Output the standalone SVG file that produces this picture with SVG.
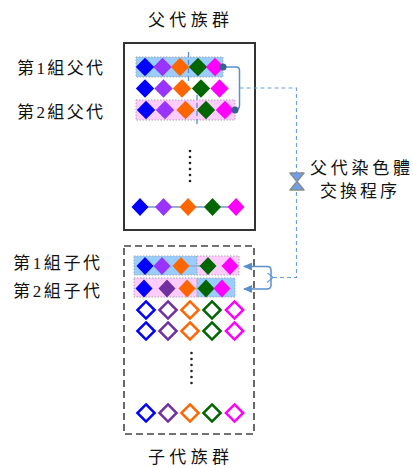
<svg xmlns="http://www.w3.org/2000/svg" xmlns:xlink="http://www.w3.org/1999/xlink" width="413" height="468" viewBox="0 0 413 468">
<style>
text{font-family:"Liberation Serif","Noto Sans CJK TC",serif;font-size:17px;fill:#111}
.b{fill:#0000ff}.p{fill:#9933ff}.dp{fill:#7030a0}.o{fill:#ff6600}.g{fill:#006600}.m{fill:#ff00ff}
.ob{stroke:#0000ff}.op{stroke:#7030a0}.oo{stroke:#ff6600}.og{stroke:#006600}.om{stroke:#ff00ff}
.hb{fill:#99ccff;stroke:#a8a8a8;stroke-width:1;stroke-dasharray:1.5 1.5}
.hp{fill:#ffccff;stroke:#a8a8a8;stroke-width:1;stroke-dasharray:1.5 1.5}
.cut{stroke:#5b8fcc;stroke-width:1.3;stroke-dasharray:5 3;fill:none}
.link{stroke:#9ab0d0;stroke-width:2}
.con{stroke:#5b8fcc;stroke-width:1.5;fill:none}
.dash{stroke:#6f9fd8;stroke-width:1.2;stroke-dasharray:4 3;fill:none}
.dot{fill:#222}
.outl{fill:#fff;stroke-width:2.5}
</style>
<defs>
<path id="dm" d="M0,-9.2 L9.2,0 L0,9.2 L-9.2,0Z"/>
<path id="ds" d="M0,-9 L8.5,0 L0,9 L-8.5,0Z"/>
<path id="do" d="M0,-8.6 L8.6,0 L0,8.6 L-8.6,0Z"/>
<marker id="ah" markerWidth="9" markerHeight="8" refX="8" refY="4" orient="auto" markerUnits="userSpaceOnUse">
<path d="M0,0 L9,4 L0,8Z" fill="#5b8fcc"/>
</marker>
<marker id="oa" markerWidth="8" markerHeight="10" refX="1" refY="5" orient="auto" markerUnits="userSpaceOnUse">
<path d="M7,0 L1,5 L7,10" fill="none" stroke="#6f9fd8" stroke-width="1.2"/>
</marker>
</defs>
<rect width="413" height="468" fill="#fff"/>

<g id="parent-population">
<text x="148" y="26" textLength="81" lengthAdjust="spacing">父代族群</text>
<rect x="124" y="43" width="131" height="187" fill="#fff" stroke="#333" stroke-width="2"/>
<g id="parent-1">
<text x="17" y="73.5" textLength="86" lengthAdjust="spacing">第1組父代</text>
<rect class="hb" x="136" y="57" width="87" height="20"/>
<use xlink:href="#dm" x="145" y="67" class="b"/>
<use xlink:href="#dm" x="162.5" y="67" class="p"/>
<use xlink:href="#dm" x="180" y="67" class="o"/>
<use xlink:href="#dm" x="198" y="67" class="g"/>
<use xlink:href="#dm" x="215" y="67" class="m"/>
<line class="cut" x1="188.5" y1="52" x2="188.5" y2="81"/>
</g>
<g id="parent-row-2">
<use xlink:href="#dm" x="145" y="88.5" class="b"/>
<use xlink:href="#dm" x="163.5" y="88.5" class="p"/>
<use xlink:href="#dm" x="182" y="88.5" class="o"/>
<use xlink:href="#dm" x="201" y="88.5" class="g"/>
<use xlink:href="#dm" x="219.5" y="88.5" class="m"/>
</g>
<g id="parent-2">
<text x="17" y="118" textLength="86" lengthAdjust="spacing">第2組父代</text>
<rect class="hp" x="136" y="100" width="99" height="20"/>
<use xlink:href="#dm" x="146" y="110" class="b"/>
<use xlink:href="#dm" x="165" y="110" class="p"/>
<use xlink:href="#dm" x="185.5" y="110" class="o"/>
<use xlink:href="#dm" x="206" y="110" class="g"/>
<use xlink:href="#dm" x="225" y="110" class="m"/>
<line class="cut" x1="197" y1="95" x2="197" y2="125"/>
</g>
<g id="parent-ellipsis">
<circle class="dot" cx="190" cy="151" r="1.3"/>
<circle class="dot" cx="190" cy="157" r="1.3"/>
<circle class="dot" cx="190" cy="163" r="1.3"/>
<circle class="dot" cx="190" cy="169" r="1.3"/>
<circle class="dot" cx="190" cy="175" r="1.3"/>
<circle class="dot" cx="190" cy="181" r="1.3"/>
</g>
<g id="parent-row-n">
<line class="link" x1="140" y1="207" x2="236" y2="207"/>
<use xlink:href="#ds" x="140" y="207" class="b"/>
<use xlink:href="#ds" x="163.5" y="207" class="p"/>
<use xlink:href="#ds" x="188" y="207" class="o"/>
<use xlink:href="#ds" x="212.5" y="207" class="g"/>
<use xlink:href="#ds" x="236" y="207" class="m"/>
</g>
</g>

<g id="exchange-process">
<path d="M290,173 H304 L297,181.5 Z M297,181.5 L304,190 H290 Z" fill="#6f9ff0" stroke="#8a8a8a" stroke-width="1.5" stroke-linejoin="round"/>
<text x="310" y="173.5" textLength="100" lengthAdjust="spacing">父代染色體</text>
<text x="320" y="197" textLength="77" lengthAdjust="spacing">交換程序</text>
</g>

<g id="child-population">
<rect x="124" y="246" width="130" height="188" fill="none" stroke="#444" stroke-width="1.6" stroke-dasharray="7 4"/>
<g id="child-1">
<text x="13" y="269" textLength="87" lengthAdjust="spacing">第1組子代</text>
<rect class="hb" x="134" y="256" width="63" height="19"/>
<rect class="hp" x="197" y="256" width="42" height="19"/>
<line class="link" x1="181" y1="266" x2="208" y2="266"/>
<use xlink:href="#ds" x="145" y="266" class="b"/>
<use xlink:href="#ds" x="162" y="266" class="p"/>
<use xlink:href="#ds" x="181" y="266" class="o"/>
<use xlink:href="#ds" x="208" y="266" class="g"/>
<use xlink:href="#ds" x="230" y="266" class="m"/>
</g>
<g id="child-2">
<text x="13" y="297" textLength="87" lengthAdjust="spacing">第2組子代</text>
<rect class="hp" x="134" y="278" width="63" height="19"/>
<rect class="hb" x="197" y="278" width="38" height="19"/>
<line class="link" x1="187" y1="288.5" x2="206" y2="288.5"/>
<use xlink:href="#ds" x="144" y="288.5" class="b"/>
<use xlink:href="#ds" x="167" y="288.5" class="dp"/>
<use xlink:href="#ds" x="187" y="288.5" class="o"/>
<use xlink:href="#ds" x="206" y="288.5" class="g"/>
<use xlink:href="#ds" x="222" y="288.5" class="m"/>
</g>
<g id="child-row-3">
<use xlink:href="#do" x="146" y="310" class="outl ob"/>
<use xlink:href="#do" x="168" y="310" class="outl op"/>
<use xlink:href="#do" x="190" y="310" class="outl oo"/>
<use xlink:href="#do" x="212" y="310" class="outl og"/>
<use xlink:href="#do" x="234.5" y="310" class="outl om"/>
</g>
<g id="child-row-4">
<use xlink:href="#do" x="146" y="331" class="outl ob"/>
<use xlink:href="#do" x="168" y="331" class="outl op"/>
<use xlink:href="#do" x="190" y="331" class="outl oo"/>
<use xlink:href="#do" x="212" y="331" class="outl og"/>
<use xlink:href="#do" x="234.5" y="331" class="outl om"/>
</g>
<g id="child-ellipsis">
<circle class="dot" cx="191.5" cy="353" r="1.3"/>
<circle class="dot" cx="191.5" cy="359" r="1.3"/>
<circle class="dot" cx="191.5" cy="365" r="1.3"/>
<circle class="dot" cx="191.5" cy="371" r="1.3"/>
<circle class="dot" cx="191.5" cy="377" r="1.3"/>
<circle class="dot" cx="191.5" cy="383" r="1.3"/>
</g>
<g id="child-row-n">
<use xlink:href="#do" x="146" y="413" class="outl ob"/>
<use xlink:href="#do" x="168" y="413" class="outl op"/>
<use xlink:href="#do" x="190" y="413" class="outl oo"/>
<use xlink:href="#do" x="212" y="413" class="outl og"/>
<use xlink:href="#do" x="234.5" y="413" class="outl om"/>
</g>
<text x="148" y="463" textLength="81" lengthAdjust="spacing">子代族群</text>
</g>

<g id="connectors">
<path class="con" d="M223,67 H236 Q239.5,67 239.5,70.5 V105 Q239.5,110 235,110"/>
<circle cx="223" cy="67" r="3.5" fill="#3d5f8f"/>
<circle cx="235" cy="110" r="3.5" fill="#3d5f8f"/>
<path class="dash" d="M239.5,88 H296.5 V277.5 H273" marker-end="url(#oa)"/>
<path class="con" d="M271,277.5 V270 Q271,266.5 267,266.5 H244" marker-end="url(#ah)"/>
<path class="con" d="M271,277.5 V285 Q271,289 267,289 H244" marker-end="url(#ah)"/>
</g>
</svg>
